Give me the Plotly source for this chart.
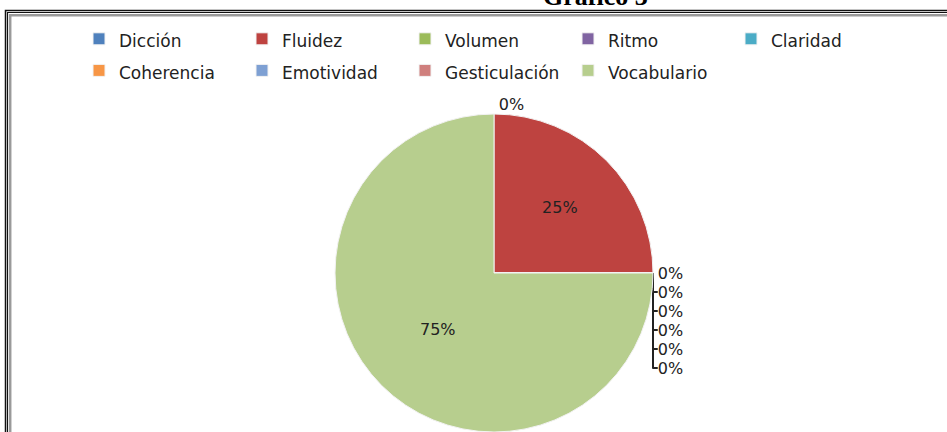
import plotly.graph_objects as go

categories = ["Dicción", "Fluidez", "Volumen", "Ritmo", "Claridad",
              "Coherencia", "Emotividad", "Gesticulación", "Vocabulario"]
percent_values = [0, 25, 0, 0, 0, 0, 0, 0, 75]
slice_colors = ["#4F81BD", "#BE4340", "#9BBB59", "#8064A2", "#4BACC6",
                "#F79646", "#7EA0D3", "#CF7F7D", "#B7CE8E"]
title_text = "Gráfico 3"

W, H = 947, 432

legend_labels = ["<span style='font-size:17px'>" + c + "</span>" for c in categories]

fig = go.Figure()
fig.add_trace(go.Pie(
    labels=legend_labels,
    values=percent_values,
    sort=False,
    direction="clockwise",
    rotation=0,
    marker=dict(colors=slice_colors, line=dict(color="#f2f2f2", width=1)),
    textinfo="percent",
    texttemplate="%{percent:.0%}",
    textposition=["outside" if v == 0 else "inside" for v in percent_values],
    insidetextorientation="horizontal",
    textfont=dict(family="DejaVu Sans", size=16, color="#222222"),
    domain=dict(x=[0.0433, 1.0], y=[0.0, 1 - 114 / H]),
    hovertext=categories,
    hoverinfo="text+percent",
    showlegend=True,
))

def px_x(p):
    return p / W

def px_y(p):
    return 1 - p / H

shapes = [
    dict(type="rect", xref="paper", yref="paper",
         x0=px_x(5.5), y0=px_y(520), x1=px_x(1100), y1=px_y(10.5),
         line=dict(color="#111111", width=1.5), layer="below"),
    dict(type="rect", xref="paper", yref="paper",
         x0=px_x(7.5), y0=px_y(520), x1=px_x(1100), y1=px_y(12.5),
         line=dict(color="#111111", width=1.2), layer="below"),
    dict(type="rect", xref="paper", yref="paper",
         x0=px_x(10.2), y0=px_y(520), x1=px_x(1100), y1=px_y(15.2),
         line=dict(color="#9a9a9a", width=2.5), layer="below"),
]

fig.update_layout(
    width=W, height=H,
    margin=dict(l=0, r=0, t=0, b=0, autoexpand=False),
    paper_bgcolor="white",
    plot_bgcolor="white",
    shapes=shapes,
    showlegend=True,
    legend=dict(
        orientation="h",
        x=px_x(79), xanchor="left",
        y=px_y(18), yanchor="top",
        entrywidth=118, entrywidthmode="pixels",
        font=dict(family="DejaVu Sans", size=22, color="#222222"),
        bgcolor="rgba(0,0,0,0)",
        traceorder="normal",
    ),
    annotations=[dict(
        text="<b>" + title_text + "</b>", xref="paper", yref="paper",
        x=px_x(595), y=px_y(13), xanchor="center", yanchor="bottom",
        showarrow=False,
        font=dict(family="Liberation Serif", size=26, color="#000000"),
    )],
)

fig.write_html("out.html", config={"displayModeBar": False},
               post_script="document.body.style.margin='0';")
